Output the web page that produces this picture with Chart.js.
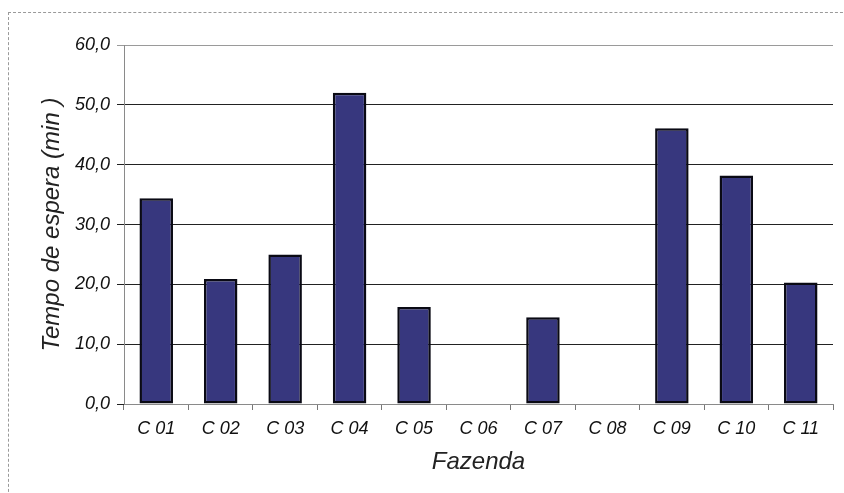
<!DOCTYPE html>
<html>
<head>
<meta charset="utf-8">
<script src="https://cdn.jsdelivr.net/npm/chart.js@4.4.1/dist/chart.umd.min.js"></script>
<style>
  html, body { margin: 0; padding: 0; background: #fff; overflow: hidden; }
  #wrap { position: relative; width: 844px; height: 493px; }
  #frame { position: absolute; left: 8px; top: 12px; width: 850px; height: 500px;
           border-left: 1px dashed #9a9a9a; border-top: 1px dashed #9a9a9a; box-sizing: border-box; }
  canvas { position: absolute; left: 0; top: 0; }
</style>
</head>
<body>
<div id="wrap">
  <div id="frame"></div>
  <canvas id="c" width="844" height="493"></canvas>
</div>
<script>
// Waiting time per farm (minutes)
const fazendas = ['C 01', 'C 02', 'C 03', 'C 04', 'C 05', 'C 06', 'C 07', 'C 08', 'C 09', 'C 10', 'C 11'];
const tempoEspera = [34.4, 20.9, 25.0, 52.0, 16.2, null, 14.5, null, 46.1, 38.2, 20.3];
const yTicks = [0, 10, 20, 30, 40, 50, 60];

const FONT = "'Liberation Sans', Arial, sans-serif";

new Chart(document.getElementById('c'), {
  type: 'bar',
  data: {
    labels: fazendas,
    datasets: [{
      data: tempoEspera,
      backgroundColor: '#37377e',
      borderColor: '#0a0a14',
      borderWidth: 2.5,
      borderSkipped: false,
      barPercentage: 0.52,
      categoryPercentage: 1.0
    }]
  },
  options: {
    responsive: false,
    animation: false,
    layout: { padding: { left: 0, right: 11, top: 45, bottom: 0 } },
    plugins: { legend: { display: false }, tooltip: { enabled: false } },
    scales: {
      x: {
        grid: { display: true, drawOnChartArea: false, drawTicks: true, tickLength: 6, color: '#777', offset: true },
        border: { display: true, color: '#8a8a8a', width: 1 },
        ticks: { color: '#111', padding: 8, font: { family: FONT, size: 18, style: 'italic' }, maxRotation: 0 },
        title: { display: true, text: 'Fazenda', color: '#222', padding: { top: 0, bottom: 16 },
                 font: { family: FONT, size: 24, style: 'italic' } },
        afterFit: (s) => { s.height = 89; }
      },
      y: {
        min: 0, max: 60,
        afterBuildTicks: (s) => { s.ticks = yTicks.map(v => ({ value: v })); },
        grid: { color: (ctx) => ctx.tick && ctx.tick.value === 60 ? '#9a9a9a' : '#222', lineWidth: 1, drawTicks: true, tickLength: 7 },
        border: { display: true, color: '#8a8a8a', width: 1 },
        ticks: { color: '#111', padding: 7, font: { family: FONT, size: 18, style: 'italic' },
                 callback: (v) => Number(v).toFixed(1).replace('.', ',') },
        title: { display: true, text: 'Tempo de espera (min )', color: '#222', padding: { top: 38, bottom: 0 },
                 font: { family: FONT, size: 24, style: 'italic' } },
        afterFit: (s) => { s.width = 124; }
      }
    }
  }
});
</script>
</body>
</html>
